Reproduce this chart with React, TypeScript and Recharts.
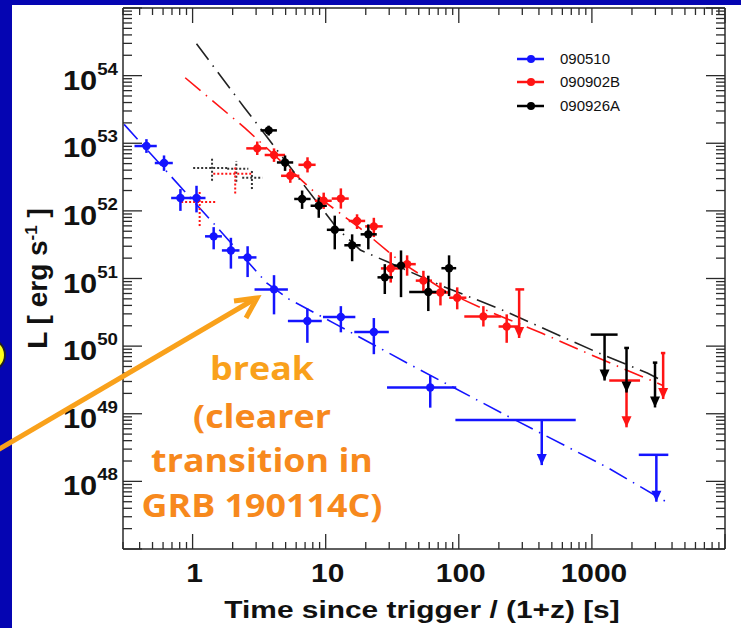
import React from 'react'
import { ComposedChart, Scatter, Line, XAxis, YAxis, ErrorBar, Legend } from 'recharts'

// ---- 090510 (blue) ----
const BLUE_T = [0.45, 0.61, 0.81, 1.07, 1.44, 1.94, 2.59, 4.09, 7.28, 13.0, 23, 61]
const BLUE_T_LO = [0.366, 0.52, 0.69, 0.95, 1.24, 1.66, 2.2, 2.92, 5.2, 9.54, 16.4, 28.9]
const BLUE_T_HI = [0.538, 0.71, 0.98, 1.25, 1.66, 2.25, 3.02, 5.2, 9.35, 16.7, 29.8, 95.7]
const BLUE_L = [9.1e52, 5.1e52, 1.55e52, 1.55e52, 4.2e51, 2.6e51, 2.05e51, 6.9e50, 2.35e50, 2.7e50, 1.62e50, 2.45e49]
const BLUE_L_LO = [7.2e52, 3.9e52, 1.0e52, 9.5e51, 2.7e51, 1.4e51, 1.05e51, 2.95e50, 1.12e50, 1.6e50, 7.6e49, 1.23e49]
const BLUE_L_HI = [1.15e53, 6.6e52, 2.1e52, 2.35e52, 5.75e51, 4.0e51, 3.0e51, 1.12e51, 3.6e50, 3.9e50, 2.6e50, 3.7e49]
const BLUE_UL_T = [420, 3050]
const BLUE_UL_T_LO = [94.3, 2250]
const BLUE_UL_T_HI = [756, 3750]
const BLUE_UL_L = [8.1e48, 2.47e48]
const BLUE_UL_TIP = [1.74e48, 5.0e47]
const BLUE_FIT_T = [0.306, 1.44, 3.62, 5.26, 11.5, 42.5, 231, 1297, 3606]
const BLUE_FIT_L = [1.9e53, 6.5e51, 8.5e50, 5.0e50, 2.19e50, 5.4e49, 9.3e48, 1.62e48, 5.0e47]

// ---- 090902B (red) ----
const RED_T = [3.06, 4.09, 5.42, 7.3, 9.66, 13.0, 17.2, 23, 30.8, 40.9, 54.2, 72.8, 97.3, 153, 229]
const RED_T_LO = [2.53, 3.48, 4.62, 6.24, 8.3, 11.1, 14.9, 19.8, 26, 35.7, 47.5, 62.9, 84.7, 110, 199]
const RED_T_HI = [3.6, 4.95, 6.34, 8.4, 11.1, 14.9, 19.8, 26.8, 35.7, 47.5, 62.9, 84.7, 114, 207, 283]
const RED_L = [8.4e52, 6.7e52, 3.3e52, 4.8e52, 1.41e52, 1.52e52, 7.1e51, 5.9e51, 1.41e51, 1.63e51, 9.3e50, 6.2e50, 5.2e50, 2.75e50, 1.95e50]
const RED_L_LO = [6.7e52, 5.3e52, 2.6e52, 3.7e52, 1.07e52, 1.08e52, 5.4e51, 4.1e51, 8.7e50, 1.1e51, 6.2e50, 4.0e50, 3.5e50, 1.95e50, 1.12e50]
const RED_L_HI = [1.06e53, 8.4e52, 4.2e52, 6.2e52, 1.86e52, 2.15e52, 8.9e51, 7.9e51, 2.45e51, 2.2e51, 1.3e51, 8.7e50, 7.4e50, 3.9e50, 2.95e50]
const RED_UL_T = [284, 1820, 3430]
const RED_UL_T_LO = [266, 1350, 3300]
const RED_UL_T_HI = [310, 2300, 3560]
const RED_UL_L = [6.9e50, 3.1e49, 7.9e49]
const RED_UL_TIP = [1.32e50, 6.3e48, 1.65e49]
const RED_FIT_T = [0.88, 2.49, 10.2, 18.2, 36.3, 81.3, 172, 422, 1023, 3443]
const RED_FIT_L = [9.3e53, 1.66e53, 1.29e52, 5.5e51, 1.78e51, 6.3e50, 3.2e50, 1.55e50, 7.2e49, 2.6e49]
const RED_DOT_T = [2.09, 1.13]
const RED_DOT_T_LO = [1.43, 0.82]
const RED_DOT_T_HI = [2.81, 1.49]
const RED_DOT_L = [3.55e52, 1.35e52]
const RED_DOT_L_LO = [1.8e52, 6e51]
const RED_DOT_L_HI = [4.6e52, 2e52]

// ---- 090926A (black) ----
const BLACK_T = [3.73, 4.95, 6.65, 8.87, 11.7, 15.8, 20.9, 27.8, 36.8, 59, 84.5]
const BLACK_T_LO = [3.24, 4.3, 5.8, 7.7, 10.2, 13.8, 18.3, 24.5, 32, 42.4, 74]
const BLACK_T_HI = [4.3, 5.7, 7.7, 10.2, 13.8, 18.3, 24.2, 32, 42.4, 80, 95.6]
const BLACK_L = [1.55e53, 5.2e52, 1.5e52, 1.19e52, 5.25e51, 3.1e51, 4.5e51, 1.04e51, 1.55e51, 6.3e50, 1.42e51]
const BLACK_L_LO = [1.3e53, 3.9e52, 1.07e52, 7.9e51, 2.7e51, 1.8e51, 2.7e51, 5.9e50, 5.3e50, 3.3e50, 5.5e50]
const BLACK_L_HI = [1.82e53, 6.6e52, 2.0e52, 1.58e52, 8.5e51, 4.5e51, 6.3e51, 1.63e51, 2.6e51, 1.1e51, 2.2e51]
const BLACK_UL_T = [1245, 1820, 2980]
const BLACK_UL_T_LO = [980, 1750, 2870]
const BLACK_UL_T_HI = [1560, 1900, 3100]
const BLACK_UL_L = [1.48e50, 9.4e49, 5.7e49]
const BLACK_UL_TIP = [3.1e49, 2.06e49, 1.24e49]
const BLACK_FIT_T = [1.07, 2.42, 3.23, 12.2, 18.2, 28.8, 76.9, 200, 1096, 2606, 3266]
const BLACK_FIT_L = [2.95e54, 3.47e53, 1.66e53, 5.5e51, 2.63e51, 1.78e51, 7.6e50, 3.6e50, 8.1e49, 4.0e49, 3.2e49]
const BLACK_DOT_T = [1.4, 2.13, 2.79]
const BLACK_DOT_T_LO = [1.01, 1.82, 2.36]
const BLACK_DOT_T_HI = [1.85, 2.62, 3.34]
const BLACK_DOT_L = [4.3e52, 4.2e52, 3.1e52]
const BLACK_DOT_L_LO = [2.8e52, 2.7e52, 2.1e52]
const BLACK_DOT_L_HI = [5.9e52, 5.4e52, 3.9e52]

// ---- axes ----
const X_DECADES = [0.1, 1, 10, 100, 1000, 10000]
const X_LABELLED = [1, 10, 100, 1000]
const Y_DECADES = [1e47, 1e48, 1e49, 1e50, 1e51, 1e52, 1e53, 1e54, 1e55]
const Y_LABELLED = [1e48, 1e49, 1e50, 1e51, 1e52, 1e53, 1e54]
const MINOR_STEPS = [2, 3, 4, 5, 6, 7, 8, 9]
const X_DOMAIN = [0.3, 10000]
const Y_DOMAIN = [1e47, 1e55]

const NAMES = ['090510', '090902B', '090926A']
const BLUE = '#1414ff'
const RED = '#ff1414'
const BLACK = '#000000'
const FRAME = '#2a2a2a'
const FONT = '"Liberation Sans", Arial, Helvetica, sans-serif'

const withMinors = (decades: number[], lo: number, hi: number) => {
  const out: number[] = []
  decades.forEach((d) => {
    if (d >= lo && d <= hi) out.push(d)
    MINOR_STEPS.forEach((s) => {
      const v = d * s
      if (v >= lo * 0.999 && v <= hi) out.push(v)
    })
  })
  return out.sort((a, b) => a - b)
}
const X_TICKS = withMinors(X_DECADES, X_DOMAIN[0], X_DOMAIN[1])
const Y_TICKS = withMinors(Y_DECADES, Y_DOMAIN[0], Y_DOMAIN[1])

const points = (t: number[], tlo: number[], thi: number[], L: number[], llo: number[], lhi: number[]) =>
  t.map((v, i) => ({ t: v, L: L[i], ex: [v - tlo[i], thi[i] - v], ey: [L[i] - llo[i], lhi[i] - L[i]] }))
const limits = (t: number[], tlo: number[], thi: number[], L: number[], tip: number[]) =>
  t.map((v, i) => ({ t: v, L: L[i], ex: [v - tlo[i], thi[i] - v], ey: [L[i] - tip[i], 0] }))
const tips = (t: number[], tip: number[]) => t.map((v, i) => ({ t: v, L: tip[i] }))
const curve = (t: number[], L: number[]) => t.map((v, i) => ({ t: v, L: L[i] }))

const isDecade = (v: number) => Math.abs(Math.log10(v) - Math.round(Math.log10(v))) < 1e-6
const near = (v: number, list: number[]) => list.some((w) => Math.abs(v / w - 1) < 1e-6)

const AxisTick = (props: any) => {
  const { x, y, payload, side } = props
  const v = payload.value
  const major = isDecade(v)
  if (side === 'bottom' || side === 'top') {
    const len = major ? 15 : 7
    const dir = side === 'bottom' ? -1 : 1
    return (
      <g>
        <line x1={x} y1={y} x2={x} y2={y + dir * len} stroke={FRAME} strokeWidth={1.3} />
        {side === 'bottom' && near(v, X_LABELLED) && (
          <g transform={`translate(${x + 2},${y + 33}) scale(1.15,1)`}>
            <text x={0} y={0} textAnchor="middle" fontSize={26} fontWeight="bold" fontFamily={FONT} fill="#111">
              {String(Math.round(v))}
            </text>
          </g>
        )}
      </g>
    )
  }
  const len = major ? 19 : 9
  const dir = side === 'left' ? 1 : -1
  const exp = Math.round(Math.log10(v))
  return (
    <g>
      <line x1={x} y1={y} x2={x + dir * len} y2={y} stroke={FRAME} strokeWidth={1.3} />
      {side === 'left' && near(v, Y_LABELLED) && (
        <g transform={`translate(${x - 5},${y}) scale(1.1,1)`}>
          <text x={0} y={14} textAnchor="end" fontSize={28} fontWeight="bold" fontFamily={FONT} fill="#111">
            10<tspan dy={-15} fontSize={17}>{exp}</tspan>
          </text>
        </g>
      )}
    </g>
  )
}

const XTitle = (props: any) => {
  const { viewBox } = props
  const cx = viewBox.x + viewBox.width / 2
  return (
    <g transform={`translate(${cx - 2},${viewBox.y + 69}) scale(1.22,1)`}>
      <text x={0} y={0} textAnchor="middle" fontSize={24.5} fontWeight="bold" fontFamily={FONT} fill="#111">
        Time since trigger / (1+z) [s]
      </text>
    </g>
  )
}

const YTitle = (props: any) => {
  const { viewBox } = props
  const cy = viewBox.y + viewBox.height / 2
  const bx = 47
  return (
    <text
      x={bx}
      y={cy}
      transform={`rotate(-90,${bx},${cy})`}
      textAnchor="middle"
      fontSize={28}
      fontWeight="bold"
      fontFamily={FONT}
      fill="#111"
    >
      L [ erg s<tspan dy={-10} fontSize={17}>-1</tspan>
      <tspan dy={10}> ]</tspan>
    </text>
  )
}

const dotShape = (color: string) => (p: any) => <circle cx={p.cx} cy={p.cy} r={4.2} fill={color} />
const noShape = () => <g />
const arrowShape = (color: string) => (p: any) => (
  <path d={`M${p.cx - 5},${p.cy - 11} L${p.cx + 5},${p.cy - 11} L${p.cx},${p.cy} Z`} fill={color} />
)

const LegendBox = () => (
  <div style={{ fontFamily: FONT, fontSize: 15, color: '#111' }}>
    {NAMES.map((n, i) => {
      const c = [BLUE, RED, BLACK][i]
      return (
        <div key={n} style={{ display: 'flex', alignItems: 'center', height: 23.5 }}>
          <svg width={30} height={10} style={{ display: 'block' }}>
            <line x1={1} y1={5} x2={28} y2={5} stroke={c} strokeWidth={2.5} />
            <circle cx={15} cy={5} r={4} fill={c} />
          </svg>
          <span style={{ marginLeft: 14, lineHeight: '16px' }}>{n}</span>
        </div>
      )
    })}
  </div>
)

export default function App() {
  const blue = points(BLUE_T, BLUE_T_LO, BLUE_T_HI, BLUE_L, BLUE_L_LO, BLUE_L_HI)
  const red = points(RED_T, RED_T_LO, RED_T_HI, RED_L, RED_L_LO, RED_L_HI)
  const black = points(BLACK_T, BLACK_T_LO, BLACK_T_HI, BLACK_L, BLACK_L_LO, BLACK_L_HI)
  const redDot = points(RED_DOT_T, RED_DOT_T_LO, RED_DOT_T_HI, RED_DOT_L, RED_DOT_L_LO, RED_DOT_L_HI)
  const blackDot = points(BLACK_DOT_T, BLACK_DOT_T_LO, BLACK_DOT_T_HI, BLACK_DOT_L, BLACK_DOT_L_LO, BLACK_DOT_L_HI)
  const blueUL = limits(BLUE_UL_T, BLUE_UL_T_LO, BLUE_UL_T_HI, BLUE_UL_L, BLUE_UL_TIP)
  const redUL = limits(RED_UL_T, RED_UL_T_LO, RED_UL_T_HI, RED_UL_L, RED_UL_TIP)
  const blackUL = limits(BLACK_UL_T, BLACK_UL_T_LO, BLACK_UL_T_HI, BLACK_UL_L, BLACK_UL_TIP)

  const dash = '20 7 1.5 7'
  const common = { xAxisId: 'b', yAxisId: 'l', isAnimationActive: false }
  const axisLine = { stroke: FRAME, strokeWidth: 1.5 }

  return (
    <div style={{ position: 'absolute', left: 0, top: 0, width: 741, height: 628, background: '#0505b2', overflow: 'hidden' }}>
      <div style={{ position: 'absolute', left: 12, top: 5, right: 0, bottom: 0, background: '#ffffff' }} />
      <div
        style={{
          position: 'absolute', left: -28, top: 338, width: 30, height: 30, borderRadius: '50%',
          background: '#ffff1a', border: '2px solid #222',
        }}
      />
      <div style={{ position: 'absolute', left: 0, top: 0 }}>
        <ComposedChart width={741} height={628} margin={{ top: 7, right: 15, bottom: 78, left: 122 }}>
          <XAxis
            xAxisId="b" dataKey="t" type="number" scale="log" domain={X_DOMAIN} allowDataOverflow
            ticks={X_TICKS} interval={0} height={1} tickSize={0} tickMargin={0} tickLine={false}
            axisLine={axisLine}
            tick={(p: any) => <AxisTick {...p} side="bottom" />}
            label={(p: any) => <XTitle {...p} />}
          />
          <XAxis
            xAxisId="t" orientation="top" dataKey="t" type="number" scale="log" domain={X_DOMAIN} allowDataOverflow
            ticks={X_TICKS} interval={0} height={1} tickSize={0} tickMargin={0} tickLine={false}
            axisLine={axisLine}
            tick={(p: any) => <AxisTick {...p} side="top" />}
          />
          <YAxis
            yAxisId="l" dataKey="L" type="number" scale="log" domain={Y_DOMAIN} allowDataOverflow
            ticks={Y_TICKS} interval={0} width={1} tickSize={0} tickMargin={0} tickLine={false}
            axisLine={axisLine}
            tick={(p: any) => <AxisTick {...p} side="left" />}
            label={(p: any) => <YTitle {...p} />}
          />
          <YAxis
            yAxisId="r" orientation="right" dataKey="L" type="number" scale="log" domain={Y_DOMAIN} allowDataOverflow
            ticks={Y_TICKS} interval={0} width={1} tickSize={0} tickMargin={0} tickLine={false}
            axisLine={axisLine}
            tick={(p: any) => <AxisTick {...p} side="right" />}
          />

          <Line {...common} data={curve(BLUE_FIT_T, BLUE_FIT_L)} dataKey="L" stroke={BLUE} strokeWidth={1.6} strokeDasharray={dash} dot={false} legendType="none" />
          <Line {...common} data={curve(RED_FIT_T, RED_FIT_L)} dataKey="L" stroke={RED} strokeWidth={1.6} strokeDasharray={dash} dot={false} legendType="none" />
          <Line {...common} data={curve(BLACK_FIT_T, BLACK_FIT_L)} dataKey="L" stroke="#222" strokeWidth={1.6} strokeDasharray={dash} dot={false} legendType="none" />

          <Scatter {...common} data={blackDot} fill={BLACK} shape={noShape} legendType="none">
            <ErrorBar dataKey="ex" direction="x" width={0} stroke="#333" strokeWidth={2} strokeDasharray="2 2" />
            <ErrorBar dataKey="ey" direction="y" width={0} stroke="#333" strokeWidth={2} strokeDasharray="2 2" />
          </Scatter>
          <Scatter {...common} data={redDot} fill={RED} shape={noShape} legendType="none">
            <ErrorBar dataKey="ex" direction="x" width={0} stroke={RED} strokeWidth={2} strokeDasharray="2 2" />
            <ErrorBar dataKey="ey" direction="y" width={0} stroke={RED} strokeWidth={2} strokeDasharray="2 2" />
          </Scatter>

          <Scatter {...common} name={NAMES[0]} data={blue} fill={BLUE} shape={dotShape(BLUE)}>
            <ErrorBar dataKey="ex" direction="x" width={0} stroke={BLUE} strokeWidth={2.5} />
            <ErrorBar dataKey="ey" direction="y" width={0} stroke={BLUE} strokeWidth={2.5} />
          </Scatter>
          <Scatter {...common} name={NAMES[1]} data={red} fill={RED} shape={dotShape(RED)}>
            <ErrorBar dataKey="ex" direction="x" width={0} stroke={RED} strokeWidth={2.5} />
            <ErrorBar dataKey="ey" direction="y" width={0} stroke={RED} strokeWidth={2.5} />
          </Scatter>
          <Scatter {...common} name={NAMES[2]} data={black} fill={BLACK} shape={dotShape(BLACK)}>
            <ErrorBar dataKey="ex" direction="x" width={0} stroke={BLACK} strokeWidth={2.5} />
            <ErrorBar dataKey="ey" direction="y" width={0} stroke={BLACK} strokeWidth={2.5} />
          </Scatter>

          <Scatter {...common} data={blueUL} fill={BLUE} shape={noShape} legendType="none">
            <ErrorBar dataKey="ex" direction="x" width={0} stroke={BLUE} strokeWidth={2.5} />
            <ErrorBar dataKey="ey" direction="y" width={0} stroke={BLUE} strokeWidth={2.5} />
          </Scatter>
          <Scatter {...common} data={redUL} fill={RED} shape={noShape} legendType="none">
            <ErrorBar dataKey="ex" direction="x" width={0} stroke={RED} strokeWidth={2.5} />
            <ErrorBar dataKey="ey" direction="y" width={0} stroke={RED} strokeWidth={2.5} />
          </Scatter>
          <Scatter {...common} data={blackUL} fill={BLACK} shape={noShape} legendType="none">
            <ErrorBar dataKey="ex" direction="x" width={0} stroke={BLACK} strokeWidth={2.5} />
            <ErrorBar dataKey="ey" direction="y" width={0} stroke={BLACK} strokeWidth={2.5} />
          </Scatter>
          <Scatter {...common} data={tips(BLUE_UL_T, BLUE_UL_TIP)} fill={BLUE} shape={arrowShape(BLUE)} legendType="none" />
          <Scatter {...common} data={tips(RED_UL_T, RED_UL_TIP)} fill={RED} shape={arrowShape(RED)} legendType="none" />
          <Scatter {...common} data={tips(BLACK_UL_T, BLACK_UL_TIP)} fill={BLACK} shape={arrowShape(BLACK)} legendType="none" />

          <Legend
            layout="vertical" align="center" verticalAlign="middle"
            wrapperStyle={{ position: 'absolute', left: 516, top: 47, width: 130, height: 72 }}
            content={() => <LegendBox />}
          />
        </ComposedChart>
      </div>
      <svg width={741} height={628} style={{ position: 'absolute', left: 0, top: 0, pointerEvents: 'none' }}>
        <line x1={-4} y1={451} x2={253} y2={300} stroke="#f9a11b" strokeWidth={5} />
        <polyline points="234,301 257,298 246,318" fill="none" stroke="#f9a11b" strokeWidth={5} strokeLinejoin="miter" />
        <g transform="translate(262,0) scale(1.12,1)" fontFamily='"Open Sans", Lato, sans-serif' fontWeight="bold" fontSize={32} textAnchor="middle">
          <text x={0} y={380} fill="#f9a11b">break</text>
          <text x={0} y={428} fill="#f7891d">(clearer</text>
          <text x={0} y={472} fill="#f7891d">transition in</text>
          <text x={0} y={517} fill="#f7891d">GRB 190114C)</text>
        </g>
      </svg>
    </div>
  )
}
